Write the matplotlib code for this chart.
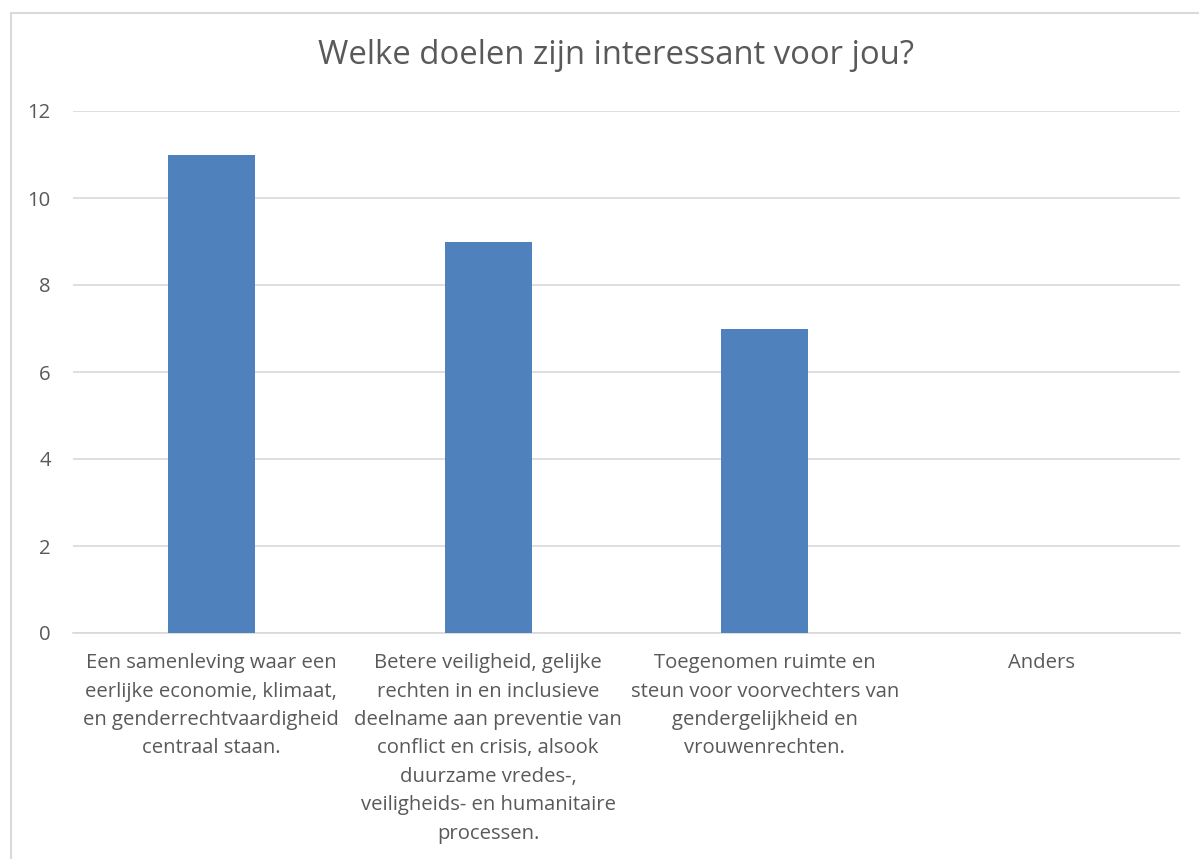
import matplotlib
matplotlib.use("Agg")
import matplotlib.pyplot as plt
from matplotlib.patches import Rectangle

# Daten aus der Umfrage
categories = [
    "Een samenleving waar een\neerlijke economie, klimaat,\nen genderrechtvaardigheid\ncentraal staan.",
    "Betere veiligheid, gelijke\nrechten in en inclusieve\ndeelname aan preventie van\nconflict en crisis, alsook\nduurzame vredes-,\nveiligheids- en humanitaire\nprocessen.",
    "Toegenomen ruimte en\nsteun voor voorvechters van\ngendergelijkheid en\nvrouwenrechten.",
    "Anders",
]
values = [11, 9, 7, 0]
y_ticks = [0, 2, 4, 6, 8, 10, 12]
title = "Welke doelen zijn interessant voor jou?"

text_color = "#595959"
grid_color = "#D9D9D9"
bar_color = "#4F81BD"

plt.rcParams["font.family"] = ["Open Sans", "DejaVu Sans"]

W, H = 1199, 859
fig = plt.figure(figsize=(W / 100, H / 100), dpi=100)

# Rahmen des Diagrammbereichs (rechts/unten außerhalb des Bildes)
fig.patches.append(Rectangle((11 / W, -0.1), 1.2, (H - 13) / H + 0.1,
                             transform=fig.transFigure, fill=False,
                             edgecolor=grid_color, linewidth=1.5))

ax = fig.add_axes([73 / W, (H - 633) / H, (1180 - 73) / W, (633 - 111) / H])

x = range(len(categories))
ax.bar(x, values, width=0.314, color=bar_color, zorder=3)

ax.set_xlim(-0.5, len(categories) - 0.5)
ax.set_ylim(0, 12)
ax.set_yticks(y_ticks)
ax.set_xticks(list(x))
ax.set_xticklabels(categories, fontsize=14.6, color=text_color,
                   linespacing=1.56, ha="center", va="top")
ax.tick_params(axis="y", labelsize=14.6, labelcolor=text_color, length=0, pad=16)
ax.tick_params(axis="x", length=0, pad=14.5)

ax.grid(axis="y", color=grid_color, linewidth=1.2, zorder=0)
for side in ("top", "right", "left"):
    ax.spines[side].set_visible(False)
ax.spines["bottom"].set_color(grid_color)
ax.spines["bottom"].set_linewidth(1.2)

fig.text(616 / W, (H - 56) / H, title, ha="center", va="center",
         fontsize=23.7, color=text_color)

fig.savefig("out.png", dpi=100, facecolor="white")
